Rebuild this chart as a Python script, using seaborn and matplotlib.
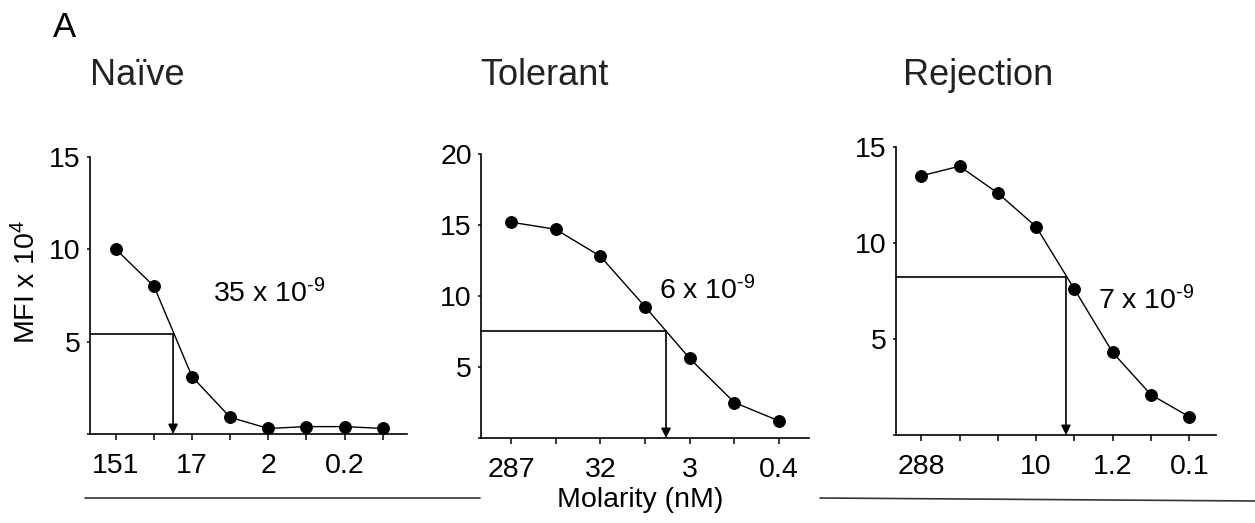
import numpy as np
import pandas as pd
import matplotlib.pyplot as plt
import seaborn as sns
from matplotlib.lines import Line2D

# ============================================================================
# DATA
# ============================================================================
panel_titles = ['Naïve', 'Tolerant', 'Rejection']

naive_mfi = [10.0, 8.0, 3.1, 0.9, 0.3, 0.4, 0.4, 0.3]
tolerant_mfi = [15.2, 14.7, 12.8, 9.25, 5.6, 2.5, 1.2]
rejection_mfi = [13.5, 14.0, 12.6, 10.85, 7.6, 4.3, 2.1, 0.95]

naive_ticks = ['151', '', '17', '', '2', '', '0.2', '']
tolerant_ticks = ['287', '', '32', '', '3', '', '0.4']
rejection_ticks = ['288', '', '', '10', '', '1.2', '', '0.1']

# EC50 read-outs: position along dilution series and MFI level
ec50_pos = [1.5, 3.47, 3.78]
ec50_level = [5.4, 7.55, 8.25]
ec50_text = ['35 x 10$^{\u20109}$', '6 x 10$^{\u20109}$', '7 x 10$^{\u20109}$']

y_max = [15, 20, 15]

# ============================================================================
# STYLE
# ============================================================================
sns.set_style('ticks')
plt.rcParams['font.family'] = ['Liberation Sans', 'DejaVu Sans']
plt.rcParams['mathtext.default'] = 'regular'
plt.rcParams['axes.linewidth'] = 1.2
for key in ['text.color', 'axes.edgecolor', 'xtick.color', 'ytick.color',
            'xtick.labelcolor', 'ytick.labelcolor']:
    plt.rcParams[key] = 'black'

fig = plt.figure(figsize=(12.55, 5.23), dpi=100)
W, H = 1255, 523


def px_axes(left, right, bottom, top):
    return fig.add_axes([left / W, 1 - bottom / H, (right - left) / W, (bottom - top) / H])


axes = [
    px_axes(90, 407, 434, 157),
    px_axes(481, 809, 438, 154),
    px_axes(896, 1216, 435, 147),
]
xlims = [(-0.68, 7.64), (-0.67, 6.67), (-0.66, 7.7)]
text_pos = [(2.55, 7.6), (3.31, 10.4), (4.62, 7.0)]

series = [naive_mfi, tolerant_mfi, rejection_mfi]
ticklabels = [naive_ticks, tolerant_ticks, rejection_ticks]

for i, ax in enumerate(axes):
    df = pd.DataFrame({'step': np.arange(len(series[i])), 'mfi': series[i]})
    sns.lineplot(data=df, x='step', y='mfi', ax=ax, color='black', linewidth=1.0,
                 marker='o', markersize=8.5, markeredgecolor='black')
    ax.set_xlim(*xlims[i])
    ax.set_ylim(0, y_max[i])
    ax.set_xticks(df['step'])
    ax.set_xticklabels(ticklabels[i], fontsize=20.5)
    yt = list(range(0, y_max[i] + 1, 5))
    ax.set_yticks(yt)
    ax.set_yticklabels([''] + [str(v) for v in yt[1:]], fontsize=20.5)
    ax.tick_params(axis='x', length=4.5, width=1.1, pad=9)
    ax.tick_params(axis='y', length=2.5, width=1.1, pad=4)
    ax.set_xlabel('')
    ax.set_ylabel('')
    sns.despine(ax=ax)

    # EC50 guide lines
    x0 = ax.get_xlim()[0]
    ax.plot([x0, ec50_pos[i]], [ec50_level[i]] * 2, color='black', lw=1.2, clip_on=False)
    ax.annotate('', xy=(ec50_pos[i], 0), xytext=(ec50_pos[i], ec50_level[i]),
                arrowprops=dict(arrowstyle='-|>', color='black', lw=1.2,
                                mutation_scale=14, shrinkA=0, shrinkB=0))
    ax.text(text_pos[i][0], text_pos[i][1], ec50_text[i], fontsize=20.5,
            ha='left', va='center')

# titles
title_x = [90, 480, 903]
for t, x in zip(panel_titles, title_x):
    fig.text(x / W, 1 - 85 / H, t, fontsize=26, color='#222222', ha='left', va='baseline')

fig.text(53 / W, 1 - 37 / H, 'A', fontsize=25, ha='left', va='baseline')

fig.text(27 / W, 1 - 282 / H, 'MFI x 10$^{4}$', fontsize=20.5, rotation=90,
         ha='center', va='center')

fig.text(640 / W, 1 - 500 / H, 'Molarity (nM)', fontsize=20.5, ha='center', va='center')
fig.add_artist(Line2D([85 / W, 480 / W], [1 - 498 / H, 1 - 498 / H],
                      transform=fig.transFigure, color='#333333', lw=1.2))
fig.add_artist(Line2D([820 / W, 1255 / W], [1 - 498 / H, 1 - 501 / H],
                      transform=fig.transFigure, color='#333333', lw=1.2))

plt.savefig('out.png', dpi=100)
